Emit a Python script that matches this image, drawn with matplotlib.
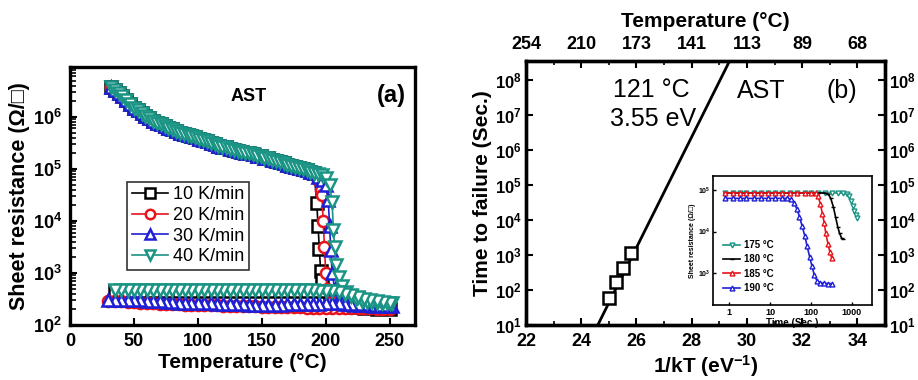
import matplotlib
matplotlib.use("Agg")
import matplotlib.pyplot as plt
import numpy as np

plt.rcParams['font.family'] = ['Liberation Sans', 'DejaVu Sans']
plt.rcParams['mathtext.fontset'] = 'custom'
plt.rcParams['mathtext.rm'] = 'Liberation Sans:bold'
plt.rcParams['mathtext.bf'] = 'Liberation Sans:bold'
plt.rcParams['mathtext.it'] = 'Liberation Sans:bold'

# ---- panel (a): sheet resistance vs temperature ----
# amorphous branch (heating), the four rates overlap here
t_amor = list(range(32, 192, 3))
r_amor = [3.80e6, 3.31e6, 2.88e6, 2.51e6, 2.14e6, 1.78e6, 1.51e6, 1.35e6, 1.20e6,
          1.05e6, 9.5e5, 8.5e5, 7.8e5, 7.2e5, 6.6e5, 6.2e5, 5.75e5, 5.4e5, 5.0e5,
          4.8e5, 4.5e5, 4.3e5, 4.1e5, 3.8e5, 3.55e5, 3.4e5, 3.2e5, 3.0e5, 2.8e5,
          2.7e5, 2.6e5, 2.45e5, 2.35e5, 2.25e5, 2.15e5, 2.05e5, 2.0e5, 1.9e5,
          1.8e5, 1.75e5, 1.65e5, 1.6e5, 1.5e5, 1.45e5, 1.35e5, 1.3e5, 1.2e5,
          1.15e5, 1.1e5, 1.05e5, 1.0e5, 9.5e4, 8.9e4, 8.3e4]

# transition and crystalline part of each heating run
t10_heat = [193, 194, 195, 196, 197, 199, 203, 210, 220, 230, 240, 250]
r10_heat = [2.2e4, 8.0e3, 2.9e3, 1.1e3, 7.4e2, 3.5e2, 2.6e2, 2.4e2, 2.2e2, 2.1e2, 2.05e2, 2.0e2]
t20_heat = [194, 196, 197, 198, 199, 200, 201, 205, 210, 215, 220, 225, 230, 235, 240, 245, 250]
r20_heat = [6.0e4, 4.0e4, 3.2e4, 1.0e4, 3.2e3, 1.0e3, 5.0e2, 2.8e2, 2.5e2, 2.3e2, 2.2e2,
            2.15e2, 2.15e2, 2.1e2, 2.1e2, 2.1e2, 2.1e2]
t30_heat = [194, 197, 200, 202, 203, 204, 205, 207, 210, 213, 217, 222, 227, 232, 237, 242, 247, 252]
r30_heat = [7.0e4, 6.0e4, 5.0e4, 2.5e4, 8.0e3, 2.8e3, 1.0e3, 5.0e2, 3.2e2, 2.7e2, 2.5e2,
            2.45e2, 2.4e2, 2.4e2, 2.35e2, 2.3e2, 2.3e2, 2.3e2]
t40_heat = [194, 197, 200, 203, 205, 206, 207, 208, 210, 213, 216, 220, 224, 228,
            232, 236, 240, 244, 248, 252]
r40_heat = [8.0e4, 7.5e4, 6.8e4, 4.9e4, 2.3e4, 6.8e3, 3.2e3, 1.4e3, 8.3e2, 5.6e2,
            4.3e2, 3.6e2, 3.1e2, 2.9e2, 2.8e2, 2.75e2, 2.7e2, 2.7e2, 2.7e2, 2.7e2]

# cooling runs back to room temperature
t10_cool = list(range(245, 34, -10))
r10_cool = [2.2e2, 2.6e2, 3.3e2, 4.0e2, 4.4e2, 4.5e2, 4.5e2, 4.5e2, 4.5e2, 4.5e2, 4.5e2,
            4.5e2, 4.5e2, 4.5e2, 4.5e2, 4.5e2, 4.5e2, 4.5e2, 4.5e2, 4.5e2, 4.5e2, 4.5e2]
t20_cool = list(range(250, 29, -5))
r20_cool = [205, 205, 205, 208, 208, 210, 210, 210, 212, 212, 215, 215, 215, 215, 218,
            218, 220, 220, 222, 225, 225, 228, 230, 230, 232, 235, 235, 238, 240, 240,
            242, 245, 245, 248, 250, 250, 255, 260, 265, 270, 275, 280, 285, 290, 290]
t30_cool = list(range(250, 29, -5))
r30_cool = [240, 240, 245, 245, 250, 250, 255, 255, 260, 260, 260, 255, 255, 250, 250,
            250, 250, 245, 245, 245, 245, 245, 245, 250, 250, 250, 255, 255, 260, 260,
            260, 265, 265, 270, 275, 280, 285, 290, 295, 300, 300, 300, 300, 300, 300]
t40_cool = list(range(250, 34, -5))
r40_cool = [270, 280, 290, 300, 320, 340, 370, 400, 430, 450, 460, 460, 465, 465, 470,
            470, 465, 465, 470, 470, 475, 470, 470, 475, 475, 470, 470, 475, 475, 480,
            475, 475, 480, 480, 480, 475, 480, 480, 480, 480, 480, 480, 480, 480]

rate_labels = ['10 K/min', '20 K/min', '30 K/min', '40 K/min']
rate_colors = ['black', '#e8141c', '#1f1fd6', '#1a9484']
rate_markers = ['s', 'o', '^', 'v']

# ---- panel (b): Arrhenius plot ----
inv_kt = [25.0, 25.26, 25.52, 25.8]
t_fail = [60, 170, 430, 1150]
fit_x = [24.6, 29.4]
fit_y = [10, 3.9e8]
kt_ticks = [22, 24, 26, 28, 30, 32, 34]
top_labels = ['254', '210', '173', '141', '113', '89', '68']

# ---- inset: isothermal sheet resistance vs time ----
iso_labels = ['175 \u00b0C', '180 \u00b0C', '185 \u00b0C', '190 \u00b0C']
iso_colors = ['#1a9484', 'black', '#e8141c', '#1f1fd6']
iso_markers = ['v', '_', '^', '^']
time175 = [0.8, 1.2, 1.8, 2.6, 4, 6, 9, 13, 20, 30, 45, 70, 100, 150, 220, 320,
           450, 600, 750, 850, 950, 1050, 1150, 1250, 1350]
res175 = [8.5e4] * 17 + [8.4e4, 8.0e4, 7.0e4, 5.5e4, 4.2e4, 3.2e4, 2.5e4, 2.1e4]
time180 = [0.8, 1.2, 1.8, 2.6, 4, 6, 9, 13, 20, 30, 45, 70, 100, 150, 220,
           260, 300, 350, 400, 450, 500, 560, 600]
res180 = [8.5e4] * 15 + [8.0e4, 6.5e4, 4.0e4, 2.2e4, 1.3e4, 9.0e3, 7.0e3, 6.6e3]
time185 = [0.8, 1.2, 1.8, 2.6, 4, 6, 9, 13, 20, 30, 45, 70, 100, 130,
           150, 170, 190, 210, 230, 260, 290, 320]
res185 = [8.5e4] * 14 + [7.0e4, 4.5e4, 2.7e4, 1.6e4, 9.0e3, 5.0e3, 3.2e3, 2.3e3]
time190 = [0.8, 1.2, 1.8, 2.6, 4, 6, 9, 13, 20, 26, 32, 38, 45, 52, 60, 70, 80,
           92, 105, 120, 140, 170, 210, 260, 320]
res190 = [6.3e4] * 10 + [6.0e4, 5.0e4, 3.5e4, 2.3e4, 1.4e4, 8.0e3, 4.5e3,
                         2.5e3, 1.5e3, 9.0e2, 6.5e2, 5.8e2, 5.7e2, 5.6e2, 5.6e2]

fig = plt.figure(figsize=(9.18, 3.8), dpi=100)

# ---------------- (a) ----------------
ax = fig.add_axes([0.0763, 0.1447, 0.376, 0.679])
heat = [(t10_heat, r10_heat), (t20_heat, r20_heat), (t30_heat, r30_heat), (t40_heat, r40_heat)]
cool = [(t10_cool, r10_cool), (t20_cool, r20_cool), (t30_cool, r30_cool), (t40_cool, r40_cool)]
for (th, rh), (tc, rc), lab, col, mk in zip(heat, cool, rate_labels, rate_colors, rate_markers):
    ax.plot(t_amor + th + tc, r_amor + rh + rc, color=col, marker=mk, markersize=8,
            markerfacecolor='white', markeredgewidth=1.8, lw=1.2, label=lab)
ax.set_yscale('log')
ax.set_xlim(0, 270)
ax.set_ylim(1e2, 10 ** 6.96)
ax.set_xticks([0, 50, 100, 150, 200, 250])
ax.set_xticklabels(['0', '50', '100', '150', '200', '250'])
ax.set_yticks([1e2, 1e3, 1e4, 1e5, 1e6])
ax.set_yticklabels([r'$\mathbf{10^{%d}}$' % k for k in range(2, 7)])
ax.tick_params(axis='both', which='both', direction='in', labelsize=13, top=False, right=False)
ax.tick_params(axis='both', which='major', length=5, width=1.5, pad=6)
ax.tick_params(axis='y', which='minor', length=4, width=1.2)
for lab in ax.get_xticklabels():
    lab.set_fontweight('bold')
for sp in ax.spines.values():
    sp.set_linewidth(2.4)
ax.set_xlabel('Temperature (\u00b0C)', fontsize=15, fontweight='bold', labelpad=2)
ax.set_ylabel('Sheet resistance (\u03a9/\u25a1)', fontsize=15.5, fontweight='bold', labelpad=2)
ax.text(0.464, 0.884, 'AST', transform=ax.transAxes, fontsize=13, fontweight='bold', va='center')
ax.text(0.89, 0.89, '(a)', transform=ax.transAxes, fontsize=17, fontweight='bold', va='center')
leg = ax.legend(loc='upper left', bbox_to_anchor=(0.165, 0.555), fontsize=13,
                frameon=True, fancybox=False, edgecolor='black', handlelength=2.0,
                borderpad=0.25, labelspacing=0.2, handletextpad=0.3, borderaxespad=0,
                markerscale=0.85)
leg.get_frame().set_linewidth(1.2)

# ---------------- (b) ----------------
bx = fig.add_axes([0.573, 0.1447, 0.391, 0.695])
bx.plot(fit_x, fit_y, color='black', lw=2)
bx.plot(inv_kt, t_fail, 's', color='black', markerfacecolor='white',
        markersize=8, markeredgewidth=1.8)
bx.set_yscale('log')
bx.set_xlim(22, 35)
bx.set_ylim(10, 10 ** 8.55)
bx.set_xticks(kt_ticks)
bx.set_xticklabels([str(v) for v in kt_ticks])
bx.set_xticks(np.arange(23, 35, 2), minor=True)
bx.set_yticks([10 ** k for k in range(1, 9)])
bx.set_yticklabels([r'$\mathbf{10^{%d}}$' % k for k in range(1, 9)])
bx.tick_params(axis='both', which='both', direction='in', labelsize=13)
bx.tick_params(axis='y', which='both', right=True, labelright=True, labelsize=12)
bx.tick_params(axis='both', which='major', length=5, width=1.5)
bx.tick_params(axis='x', which='major', pad=6)
bx.tick_params(axis='y', which='major', pad=3)
bx.tick_params(axis='both', which='minor', length=3, width=1.2)
for lab in bx.get_xticklabels():
    lab.set_fontweight('bold')
for sp in bx.spines.values():
    sp.set_linewidth(2.4)
bx.set_xlabel('1/kT (eV$^{-1}$)', fontsize=15, fontweight='bold', labelpad=2)
bx.set_ylabel('Time to failure (Sec.)', fontsize=15, fontweight='bold', labelpad=2)

tx = bx.twiny()
tx.set_xlim(bx.get_xlim())
tx.set_xticks(kt_ticks)
tx.set_xticklabels(top_labels, fontsize=13, fontweight='bold')
tx.set_xticks(np.arange(23, 35, 2), minor=True)
tx.tick_params(axis='x', which='both', direction='in', pad=6)
tx.tick_params(axis='x', which='major', length=5, width=1.5)
tx.tick_params(axis='x', which='minor', length=3, width=1.2)
tx.set_xlabel('Temperature (\u00b0C)', fontsize=15, fontweight='bold', labelpad=6)
for sp in tx.spines.values():
    sp.set_linewidth(2.4)

bx.text(0.242, 0.89, '121 \u00b0C', transform=bx.transAxes, fontsize=18, va='center')
bx.text(0.234, 0.78, '3.55 eV', transform=bx.transAxes, fontsize=18, va='center')
bx.text(0.588, 0.885, 'AST', transform=bx.transAxes, fontsize=18, va='center')
bx.text(0.838, 0.885, '(b)', transform=bx.transAxes, fontsize=18, va='center')

# ---------------- inset ----------------
ix = fig.add_axes([0.7767, 0.197, 0.1732, 0.339])
iso = [(time175, res175), (time180, res180), (time185, res185), (time190, res190)]
for (tt, rr), lab, col, mk in zip(iso, iso_labels, iso_colors, iso_markers):
    ix.plot(tt, rr, color=col, marker=mk, markersize=3.5, markerfacecolor='white',
            markeredgewidth=1.0, lw=1.2, label=lab)
ix.set_xscale('log')
ix.set_yscale('log')
ix.set_xlim(0.4, 3100)
ix.set_ylim(10 ** 2.23, 10 ** 5.33)
ix.set_xticks([1, 10, 100, 1000])
ix.set_xticklabels(['1', '10', '100', '1000'], fontsize=6.5, fontweight='bold')
ix.set_yticks([1e3, 1e4, 1e5])
ix.set_yticklabels([r'$\mathbf{10^{%d}}$' % k for k in (3, 4, 5)], fontsize=5)
ix.minorticks_off()
ix.tick_params(axis='both', which='major', direction='in', length=2, width=1, pad=2)
for sp in ix.spines.values():
    sp.set_linewidth(1.2)
ix.set_xlabel('Time (Sec.)', fontsize=7, fontweight='bold', labelpad=1)
ix.set_ylabel('Sheet resistance (\u03a9/\u25a1)', fontsize=5, fontweight='bold', labelpad=1)
ix.legend(loc='lower left', bbox_to_anchor=(0.02, 0.04), frameon=False,
          prop={'size': 7, 'weight': 'bold'}, handlelength=1.8, labelspacing=0.45,
          handletextpad=0.4, borderpad=0.2)

fig.savefig('out.png', dpi=100)
